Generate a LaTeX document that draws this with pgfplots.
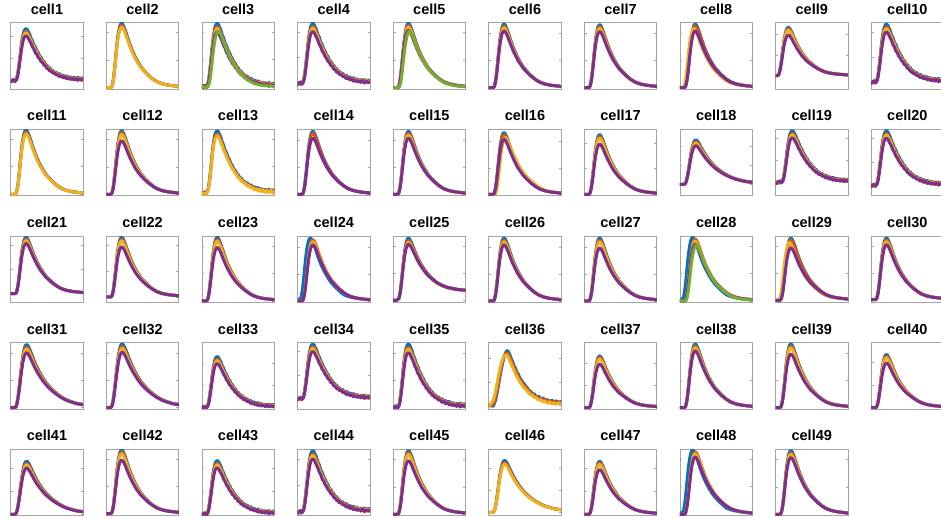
\documentclass[border=0pt]{standalone}
\usepackage{fontspec}
\setmainfont{Liberation Sans}
\usepackage{pgfplots}
\usepackage{pgfplotstable}
\pgfplotsset{compat=1.18}

\definecolor{mblue}{RGB}{0,114,189}
\definecolor{mred}{RGB}{217,83,25}
\definecolor{myellow}{RGB}{237,177,32}
\definecolor{mpurple}{RGB}{126,47,142}
\definecolor{mgreen}{RGB}{119,172,48}
\definecolor{boxgray}{RGB}{165,165,165}

% clean traces, normalised (baseline 0, blue peak 1)
\pgfplotstableread{
x b be r y ye yl p pl g
-10 0 0 0 0 0 0 0 0 0
0 0 0 0 0 0 0 0 0 0
5 0 .055 0 0 .005 0 0 0 0
7 .005 .20 .005 .005 .074 0 .004 .004 0
8 .03 .30 .03 .028 .14 0 .025 .024 .004
9 .08 .42 .08 .075 .23 .005 .07 .066 .022
10 .15 .54 .145 .14 .335 .028 .13 .125 .055
11 .25 .655 .24 .235 .446 .074 .22 .21 .11
12 .36 .755 .35 .34 .56 .138 .32 .30 .19
13 .48 .835 .465 .45 .66 .23 .43 .40 .29
14 .60 .90 .58 .565 .745 .33 .535 .50 .39
15 .71 .95 .69 .665 .81 .44 .63 .595 .50
16 .80 .98 .775 .75 .865 .55 .71 .67 .595
17 .87 .995 .845 .82 .90 .655 .775 .73 .675
18 .93 .998 .90 .875 .92 .735 .83 .78 .74
19 .97 .988 .94 .91 .93 .80 .86 .81 .795
20 .99 .968 .96 .93 .925 .855 .88 .83 .83
21 1.0 .94 .97 .94 .91 .89 .89 .84 .86
22 .995 .915 .965 .935 .89 .91 .885 .835 .875
23 .98 .88 .95 .92 .86 .92 .875 .825 .88
24 .955 .85 .93 .90 .837 .915 .855 .805 .87
26 .90 .78 .875 .85 .77 .88 .805 .76 .83
28 .83 .71 .81 .785 .707 .83 .745 .70 .775
30 .76 .645 .74 .72 .646 .765 .685 .645 .71
33 .66 .56 .645 .625 .56 .68 .60 .565 .62
36 .575 .49 .56 .545 .49 .60 .525 .495 .54
40 .475 .405 .465 .45 .405 .50 .435 .41 .445
44 .395 .33 .385 .375 .333 .42 .365 .345 .365
48 .32 .27 .315 .305 .275 .35 .30 .285 .30
53 .255 .21 .25 .245 .215 .28 .24 .23 .235
58 .195 .155 .19 .185 .165 .22 .185 .178 .178
64 .135 .097 .133 .13 .107 .165 .13 .128 .125
70 .093 .07 .09 .088 .076 .11 .087 .086 .08
77 .062 .05 .06 .059 .05 .07 .058 .057 .05
85 .041 .035 .04 .039 .035 .045 .039 .038 .03
92 .03 .025 .03 .029 .028 .032 .029 .029 .02
100 .02 .02 .02 .02 .019 .02 .02 .02 .015
110 .015 .015 .015 .015 .015 .015 .015 .015 .012
}\tA

% noisy traces
\pgfplotstableread{
x b r y p g
-10 .02 -.01 .01 -.02 0
0 .02 -.01 .01 -.02 0
2 -.01 .02 0 .01 .01
4 .03 0 -.02 .02 -.01
6 0 .02 .01 -.01 0
8 .05 .04 .03 .02 0
9 .09 .09 .08 .06 .02
10 .17 .16 .15 .12 .05
11 .26 .25 .24 .21 .10
12 .38 .36 .34 .30 .18
13 .49 .47 .45 .41 .28
14 .62 .59 .56 .51 .38
15 .72 .69 .66 .61 .49
16 .82 .78 .75 .69 .58
17 .88 .84 .81 .76 .67
18 .94 .89 .86 .81 .74
19 .97 .92 .89 .84 .79
20 .99 .94 .91 .855 .83
21 1.0 .95 .92 .86 .86
22 .99 .945 .915 .855 .875
23 .98 .93 .90 .845 .88
24 .95 .905 .875 .82 .87
26 .90 .85 .82 .77 .83
28 .82 .79 .77 .72 .77
30 .77 .72 .69 .65 .71
32 .69 .67 .65 .61 .65
34 .65 .60 .58 .54 .59
36 .58 .57 .54 .51 .54
38 .54 .50 .48 .45 .49
40 .48 .47 .45 .42 .44
42 .45 .41 .39 .37 .40
44 .39 .39 .37 .35 .36
46 .37 .34 .32 .30 .32
48 .32 .32 .30 .29 .29
50 .30 .27 .25 .24 .25
52 .26 .26 .25 .23 .23
54 .25 .22 .20 .19 .20
56 .21 .21 .20 .19 .18
58 .20 .18 .16 .15 .15
60 .17 .18 .17 .16 .14
62.5 .17 .14 .12 .12 .11
65 .13 .14 .13 .12 .10
67.5 .14 .11 .09 .08 .08
70 .10 .11 .10 .10 .07
72.5 .11 .08 .06 .06 .05
75 .08 .09 .08 .08 .05
77.5 .10 .06 .04 .04 .04
80 .06 .08 .07 .06 .03
82.5 .08 .05 .03 .03 .03
85 .05 .07 .06 .05 .02
87.5 .07 .04 .02 .02 .02
90 .04 .06 .05 .05 .02
92.5 .07 .04 .02 .01 .01
95 .04 .06 .05 .04 .02
97.5 .06 .03 .01 .02 .01
100 .05 .05 .04 .03 .01
110 .05 .05 .04 .03 .01
}\tN

% broad traces, slower decay
\pgfplotstableread{
x b r y p
-10 0 0 0 0
0 0 0 0 0
5 0 0 0 0
7 .01 .01 .01 .008
8 .04 .04 .037 .034
9 .09 .085 .08 .075
10 .16 .155 .15 .14
11 .25 .24 .23 .215
12 .35 .34 .325 .30
13 .46 .445 .43 .40
14 .57 .55 .53 .495
15 .67 .645 .625 .58
16 .76 .73 .705 .66
17 .84 .805 .78 .73
18 .90 .865 .835 .78
19 .95 .91 .88 .825
20 .98 .94 .91 .85
21 .995 .955 .925 .865
22 1.0 .96 .93 .87
23 .995 .955 .925 .865
24 .98 .94 .91 .85
26 .935 .90 .87 .815
28 .875 .84 .815 .765
30 .815 .785 .76 .715
33 .73 .705 .68 .64
36 .65 .63 .605 .575
40 .56 .545 .525 .50
44 .48 .47 .45 .43
48 .41 .40 .385 .37
53 .34 .335 .32 .31
58 .28 .275 .265 .257
64 .22 .215 .21 .203
70 .17 .165 .16 .157
77 .125 .12 .118 .115
85 .09 .087 .085 .083
92 .065 .063 .062 .06
100 .05 .048 .047 .046
110 .045 .044 .043 .042
}\tW

% cell 25: decay to a raised plateau
\pgfplotstableread{
x b r y p
-10 0 0 0 0
0 0 0 0 0
5 0 0 0 0
8 .03 .03 .028 .027
10 .15 .145 .14 .135
12 .36 .35 .335 .325
14 .60 .58 .56 .54
16 .80 .77 .745 .72
18 .93 .895 .865 .84
20 .99 .95 .92 .89
21.5 1.0 .96 .93 .90
23 .98 .945 .915 .885
26 .91 .88 .855 .83
30 .79 .77 .75 .73
34 .68 .665 .65 .635
38 .59 .58 .565 .555
43 .50 .49 .475 .47
48 .42 .415 .40 .40
54 .35 .345 .335 .34
60 .29 .29 .28 .285
67 .245 .24 .235 .24
75 .21 .205 .20 .205
85 .185 .18 .175 .18
92 .17 .17 .165 .17
100 .16 .16 .155 .16
110 .16 .16 .155 .16
}\tP

% cell 36: slow rise, noisy
\pgfplotstableread{
x b r y
-10 0 .01 0
0 0 .01 0
3 .02 -.01 .03
6 -.01 .03 .09
8 .04 .08 .18
10 .13 .19 .30
12 .26 .32 .44
14 .41 .47 .58
16 .56 .61 .70
18 .70 .74 .80
20 .82 .85 .87
22 .92 .92 .91
24 .98 .955 .92
25.5 1.0 .96 .915
27 .98 .94 .88
29 .93 .88 .82
31 .86 .83 .76
33 .80 .75 .69
35 .72 .71 .64
37 .68 .63 .57
39 .60 .59 .53
41 .57 .52 .47
43 .50 .49 .44
45 .47 .43 .39
47 .42 .41 .36
49 .40 .36 .32
51 .35 .34 .30
53 .33 .29 .26
55 .28 .28 .24
57 .27 .23 .20
60 .22 .22 .19
63 .21 .17 .15
66 .16 .17 .14
69 .17 .12 .10
72 .12 .13 .11
75 .14 .09 .07
78 .09 .11 .08
81 .11 .07 .04
84 .07 .09 .07
87 .10 .05 .03
90 .06 .08 .05
93 .09 .05 .02
96 .05 .07 .05
100 .08 .05 .03
110 .08 .05 .03
}\tS

\tikzset{
  sb/.style={mblue}, sbe/.style={mblue},
  sr/.style={mred},
  sy/.style={myellow}, sye/.style={myellow}, syl/.style={myellow},
  sp/.style={mpurple}, spl/.style={mpurple},
  sg/.style={mgreen},
}

\pgfplotsset{cellax/.style={
  width=72.5pt, height=66.3pt, scale only axis, anchor=north west,
  xmin=0, xmax=100, clip=true,
  axis line style={draw=boxgray, line width=0.8pt},
  xtick=\empty, ytick={0,0.43,0.86}, yticklabels={}, ytick pos=both,
  tick align=inside, major tick length=2.5pt,
  tick style={draw=boxgray, line width=0.6pt},
  every axis plot/.append style={no marks, line width=3pt, line join=round},
  title style={at={(0.5,1)}, anchor=base, yshift=2.6pt, inner sep=0pt,
    font=\bfseries\fontsize{14.5}{16}\selectfont},
}}

% \cell[opts]{col}{row}{number}{table}{baseline fraction}{peak fraction}{series}
\newcommand{\cell}[8][]{%
  \pgfmathsetmacro{\cR}{1/(#7-#6)}%
  \pgfmathsetmacro{\cYmin}{-#6*\cR}%
  \pgfmathsetmacro{\cYmax}{\cYmin+\cR}%
  \begin{axis}[cellax, at={({(10.7+#2*95.6)*1pt},{(494.3-#3*106.65)*1pt})},
      ymin=\cYmin, ymax=\cYmax, title={cell#4}, #1]
    \pgfplotsinvokeforeach{#8}{\addplot[s##1] table[x=x,y=##1]{#5};}
  \end{axis}}

\begin{document}
\begin{tikzpicture}
\useasboundingbox (0,0) rectangle (941pt,517pt);
\cell{0}{0}{1}{\tN}{.12}{.91}{b,r,y,p}
\cell{1}{0}{2}{\tA}{.02}{.99}{b,r,y}
\cell{2}{0}{3}{\tN}{.03}{.99}{b,r,y,p,g}
\cell{3}{0}{4}{\tN}{.08}{.99}{b,r,y,p}
\cell{4}{0}{5}{\tA}{.02}{.99}{b,r,y,p,g}
\cell{5}{0}{6}{\tA}{.02}{.98}{b,r,y,p}
\cell{6}{0}{7}{\tA}{.02}{.97}{b,r,y,p}
\cell{7}{0}{8}{\tA}{.02}{.98}{b,r,ye,p}
\cell[xmin=3.5,xmax=103.5]{8}{0}{9}{\tA}{.2}{.93}{b,r,y,pl}
\cell{9}{0}{10}{\tN}{.1}{.98}{b,r,y,p}
\cell{0}{1}{11}{\tA}{.02}{.99}{b,r,y}
\cell{1}{1}{12}{\tA}{.02}{.98}{b,r,y,pl}
\cell{2}{1}{13}{\tN}{.03}{.98}{b,r,y}
\cell{3}{1}{14}{\tA}{.02}{.97}{b,r,p}
\cell{4}{1}{15}{\tA}{.02}{.97}{b,r,y,p}
\cell{5}{1}{16}{\tA}{.02}{.95}{b,r,yl,p}
\cell{6}{1}{17}{\tA}{.02}{.92}{b,r,y,pl}
\cell{7}{1}{18}{\tW}{.17}{.84}{b,r,y,p}
\cell[xmin=-2,xmax=98]{8}{1}{19}{\tN}{.2}{.98}{b,r,y,p}
\cell{9}{1}{20}{\tN}{.15}{.98}{b,r,y,p}
\cell{0}{2}{21}{\tA}{.13}{.98}{b,r,y,p}
\cell{1}{2}{22}{\tA}{.08}{.98}{b,r,y,pl}
\cell{2}{2}{23}{\tA}{.02}{.98}{b,r,y,pl}
\cell{3}{2}{24}{\tA}{.02}{.97}{be,r,y,p}
\cell{4}{2}{25}{\tP}{.03}{.97}{b,r,y,p}
\cell{5}{2}{26}{\tA}{.02}{.97}{b,r,y,p}
\cell{6}{2}{27}{\tA}{.02}{.97}{b,r,y,pl}
\cell{7}{2}{28}{\tA}{.02}{.98}{be,r,y,p,g}
\cell{8}{2}{29}{\tA}{.03}{.97}{b,r,ye,pl}
\cell{9}{2}{30}{\tA}{.04}{.97}{b,r,y,p}
\cell{0}{3}{31}{\tW}{.02}{.97}{b,r,y,p}
\cell{1}{3}{32}{\tW}{.02}{.98}{b,r,y,p}
\cell{2}{3}{33}{\tN}{.02}{.79}{b,r,y,p}
\cell{3}{3}{34}{\tN}{.15}{.98}{b,r,y,p}
\cell{4}{3}{35}{\tN}{.02}{.98}{b,r,y,p}
\cell{5}{3}{36}{\tS}{.05}{.88}{b,r,y}
\cell{6}{3}{37}{\tA}{.02}{.80}{b,r,y,pl}
\cell{7}{3}{38}{\tA}{.02}{.98}{b,r,y,p}
\cell{8}{3}{39}{\tA}{.02}{.98}{b,r,y,pl}
\cell{9}{3}{40}{\tA}{.02}{.82}{b,r,y,pl}
\cell{0}{4}{41}{\tW}{.02}{.82}{b,r,y,p}
\cell{1}{4}{42}{\tA}{.03}{.99}{b,r,y,pl}
\cell{2}{4}{43}{\tN}{.02}{.83}{b,r,y,p}
\cell{3}{4}{44}{\tN}{.05}{.98}{b,r,y,p}
\cell{4}{4}{45}{\tA}{.02}{.98}{b,r,y,pl}
\cell{5}{4}{46}{\tW}{.05}{.83}{b,r,y}
\cell{6}{4}{47}{\tA}{.02}{.82}{b,r,y,pl}
\cell{7}{4}{48}{\tA}{.02}{.99}{be,r,y,p}
\cell{8}{4}{49}{\tA}{.02}{.98}{b,r,y,p}
\end{tikzpicture}
\end{document}
